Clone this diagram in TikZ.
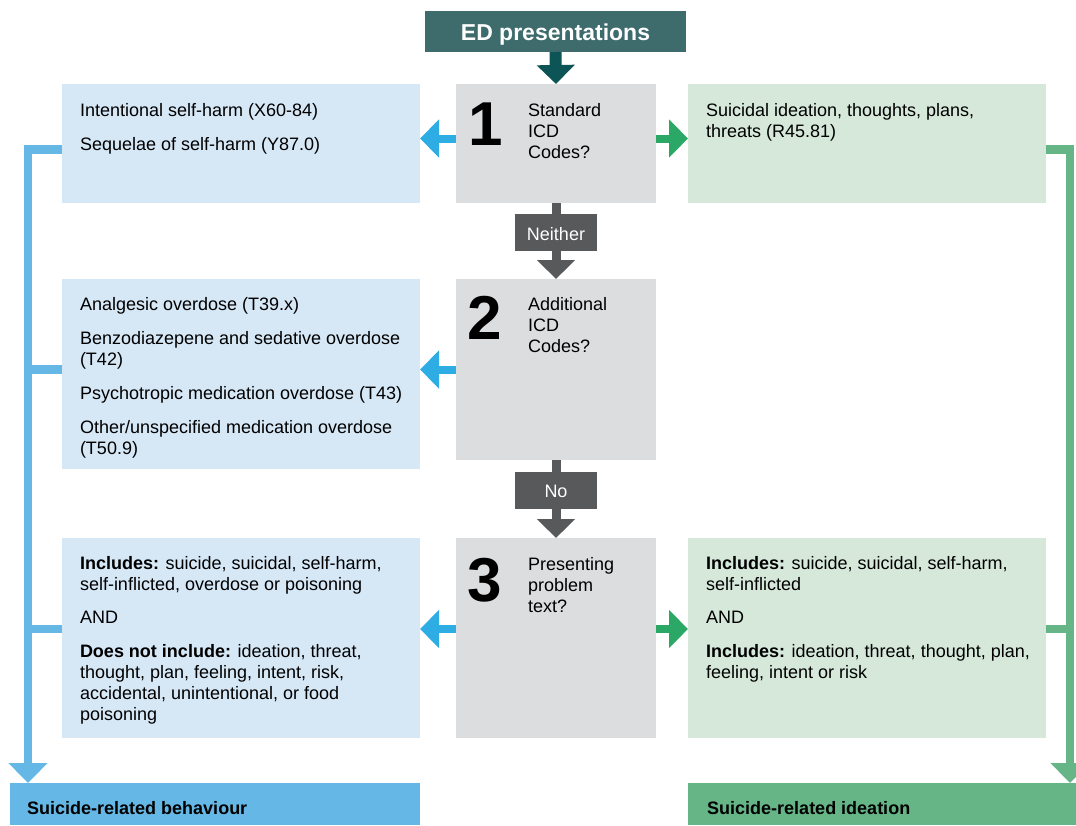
\documentclass[tikz,border=0pt]{standalone}
\usepackage{fontspec}
\setmainfont{Liberation Sans}
\usetikzlibrary{arrows.meta,calc}
\definecolor{edteal}{HTML}{3E6B6C}
\definecolor{edarrow}{HTML}{0D5456}
\definecolor{qgray}{HTML}{DCDDDF}
\definecolor{dgray}{HTML}{58595B}
\definecolor{lblue}{HTML}{D6E7F6}
\definecolor{lgreen}{HTML}{D5E8DA}
\definecolor{ablue}{HTML}{2EADE5}
\definecolor{agreen}{HTML}{2BA866}
\definecolor{mblue}{HTML}{65B8E6}
\definecolor{mgreen}{HTML}{65B586}
\newcommand\fl{\rule{0pt}{16pt}}
\newcommand\bodyfont{\fontsize{18}{21}\selectfont}
\begin{document}
\begin{tikzpicture}[x=1pt,y=-1pt,
  box/.style={anchor=north west,inner sep=0pt,outer sep=0pt,draw=none},
  txt/.style={anchor=north west,inner sep=0pt,outer sep=0pt,align=left,font=\bodyfont},
  numtxt/.style={anchor=base west,inner sep=0pt,font=\fontsize{62}{62}\selectfont\bfseries},
  sidearrow/.style={line width=8pt,-{Triangle[width=37pt,length=19pt]}},
  downarrow/.style={line width=9pt,-{Triangle[width=37pt,length=19pt]}},
  bracket/.style={line width=8.5pt,line join=miter,-{Triangle[width=38pt,length=20pt]}},
  branch/.style={line width=8.5pt},
  labeltxt/.style={anchor=base west,inner sep=0pt,font=\fontsize{18}{21}\selectfont\bfseries}]
\useasboundingbox (0,0) rectangle (1076,825);
% top box
\node[box,fill=edteal,minimum width=261pt,minimum height=41pt] (ed) at (425,11) {};
\node[text=white,font=\fontsize{23}{27}\selectfont\bfseries,inner sep=0pt,yshift=-3pt] (edt) at (ed.center) {ED presentations};
% gray question boxes
\node[box,fill=qgray,minimum width=200pt,minimum height=119pt] (g1) at (456,84) {};
\node[box,fill=qgray,minimum width=200pt,minimum height=181pt] (g2) at (456,279) {};
\node[box,fill=qgray,minimum width=200pt,minimum height=200pt] (g3) at (456,538) {};
% left blue boxes
\node[box,fill=lblue,minimum width=358pt,minimum height=119pt] (b1) at (62,84) {};
\node[box,fill=lblue,minimum width=358pt,minimum height=190pt] (b2) at (62,279) {};
\node[box,fill=lblue,minimum width=358pt,minimum height=200pt] (b3) at (62,538) {};
% right green boxes
\node[box,fill=lgreen,minimum width=358pt,minimum height=119pt] (r1) at (688,84) {};
\node[box,fill=lgreen,minimum width=358pt,minimum height=200pt] (r3) at (688,538) {};
% neither / no boxes
\node[box,fill=dgray,minimum width=82pt,minimum height=37pt] (nb) at (515,214) {};
\node[text=white,font=\bodyfont,inner sep=0pt,yshift=-2pt] (nbt) at (nb.center) {Neither};
\node[box,fill=dgray,minimum width=82pt,minimum height=37pt] (no) at (515,472) {};
\node[text=white,font=\bodyfont,inner sep=0pt,yshift=-1pt] (not) at (no.center) {No};
% bottom outcome boxes
\node[box,fill=mblue,minimum width=410pt,minimum height=42pt] (bb) at (10,783) {};
\node[box,fill=mgreen,minimum width=388pt,minimum height=42pt] (gb) at (688,783) {};
\node[labeltxt] (bbt) at (27,814) {Suicide-related behaviour};
\node[labeltxt] (gbt) at (707,814) {Suicide-related ideation};
% numbers and questions
\node[numtxt] (n1) at (468,145) {1};
\node[txt] (q1) at (528,100) {\fl Standard\\ICD\\Codes?};
\node[numtxt] (n2) at (467,339) {2};
\node[txt] (q2) at (528,294) {\fl Additional\\ICD\\Codes?};
\node[numtxt] (n3) at (467,601) {3};
\node[txt] (q3) at (528,554) {\fl Presenting\\problem\\text?};
% left texts
\node[txt] (t1) at (80,100) {\fl Intentional self-harm (X60-84)\\[13pt]Sequelae of self-harm (Y87.0)};
\node[txt] (t2) at (80,294) {\fl Analgesic overdose (T39.x)\\[13pt]Benzodiazepene and sedative overdose\\(T42)\\[13pt]Psychotropic medication overdose (T43)\\[13pt]Other/unspecified medication overdose\\(T50.9)};
\node[txt] (t3) at (80,553) {\fl \textbf{Includes:} suicide, suicidal, self-harm,\\self-inflicted, overdose or poisoning\\[12pt]AND\\[13pt]\textbf{Does not include:} ideation, threat,\\thought, plan, feeling, intent, risk,\\accidental, unintentional, or food\\poisoning};
% right texts
\node[txt] (s1) at (706,100) {\fl Suicidal ideation, thoughts, plans,\\threats (R45.81)};
\node[txt] (s3) at (706,553) {\fl \textbf{Includes:} suicide, suicidal, self-harm,\\self-inflicted\\[12pt]AND\\[13pt]\textbf{Includes:} ideation, threat, thought, plan,\\feeling, intent or risk};
% flow arrows
\draw[line width=12pt,edarrow,-{Triangle[width=37pt,length=19pt]}] (ed.south) -- (g1.north);
\draw[line width=9pt,dgray] (g1.south) -- (nb.north);
\draw[downarrow,dgray] (nb.south) -- (g2.north);
\draw[line width=9pt,dgray] (g2.south) -- (no.north);
\draw[downarrow,dgray] (no.south) -- (g3.north);
% side arrows
\draw[sidearrow,ablue] ([yshift=5pt]g1.west) -- ([yshift=5pt]g1.west -| b1.east);
\draw[sidearrow,agreen] ([yshift=5pt]g1.east) -- ([yshift=5pt]g1.east -| r1.west);
\draw[sidearrow,ablue] (g2.west) -- (g2.west -| b2.east);
\draw[sidearrow,ablue] ([yshift=9pt]g3.west) -- ([yshift=9pt]g3.west -| b3.east);
\draw[sidearrow,agreen] ([yshift=9pt]g3.east) -- ([yshift=9pt]g3.east -| r3.west);
% brackets
\coordinate (lx) at (28,0);
\coordinate (rx) at (1070,0);
\draw[bracket,mblue] ([yshift=-6pt]b1.west) -| (bb.north -| lx);
\draw[branch,mblue] (g2.west -| b2.west) -- (g2.west -| lx);
\draw[branch,mblue] ([yshift=9pt]g3.west -| b3.west) -- ([yshift=9pt]g3.west -| lx);
\draw[bracket,mgreen] ([yshift=-6pt]r1.east) -| (gb.north -| rx);
\draw[branch,mgreen] ([yshift=9pt]g3.east -| r3.east) -- ([yshift=9pt]g3.east -| rx);
\end{tikzpicture}
\end{document}
